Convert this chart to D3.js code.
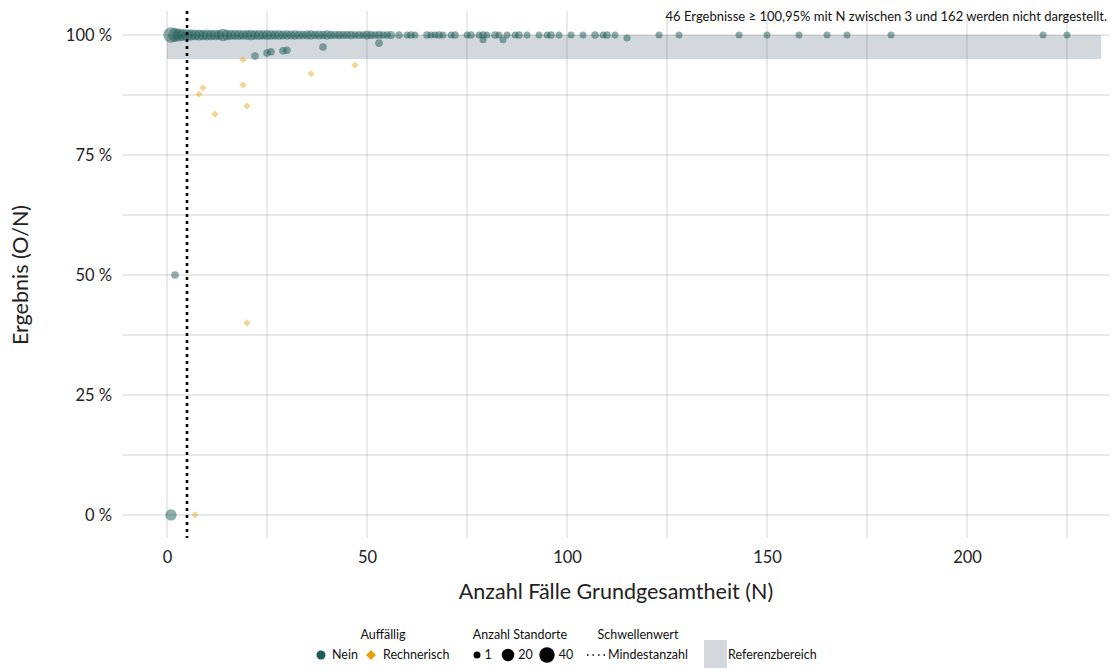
<!DOCTYPE html>
<html>
<head>
<meta charset="utf-8">
<script src="https://cdn.jsdelivr.net/npm/d3@7"></script>
<style>
  body { margin: 0; background: #fff; }
  svg { font-family: Lato, "Open Sans", sans-serif; }
</style>
</head>
<body>
<svg width="1115" height="668"></svg>
<script>
// points at 100 % (N, number of sites)
var topN = [1,2,3,4,5,6,7,8,9,10,11,12,13,14,15,16,17,18,19,20,21,22,23,24,25,26,27,28,29,30,
    31,32,33,34,35,36,37,38,39,40,41,42,43,44,45,46,47,48,49,50,51,52,53,54,55,56,
    58,60,61,62,65,66,67,68,69,71,72,75,76,78,79,80,82,83,85,87,88,90,93,95,96,98,
    101,104,107,109,110,112,123,128,143,150,158,165,170,181,219,225];
var topSites = [40,28,22,18,16,14,12,13,11,12,10,11,9,20,10,9,8,9,7,8,10,7,8,6,9,7,6,7,5,6,
    5,6,5,4,5,6,4,5,4,6,4,3,4,3,3,4,2,3,2,5,3,2,3,2,2,3,
    2,1,2,1,2,1,1,2,1,1,2,1,2,1,2,1,2,1,1,1,2,1,1,1,2,1,
    1,1,2,1,2,1,1,1,1,1,1,1,1,1,1,1];

// other not-conspicuous results
var otherN     = [1, 2, 22, 25, 26, 29, 30, 39, 53, 79, 84, 115];
var otherValue = [0, 0.50, 0.956, 0.9625, 0.965, 0.967, 0.968, 0.975, 0.983, 0.99, 0.99, 0.994];
var otherSites = [14, 2, 2, 2, 2, 2, 2, 2, 2, 1, 1, 1];

// conspicuous (Rechnerisch)
var flagN     = [7, 8, 9, 12, 19, 19, 20, 20, 36, 47];
var flagValue = [0, 0.877, 0.89, 0.835, 0.948, 0.896, 0.852, 0.40, 0.919, 0.9375];

var yTicks = [0, 0.25, 0.5, 0.75, 1];
var yMinor = [0.125, 0.375, 0.625, 0.875];
var xTicks = [0, 50, 100, 150, 200];
var xMinor = [25, 75, 125, 175, 225];
var threshold = 5;
var refBand = [0.95, 1.0];
var refBandN = [0, 233.5];
var note = "46 Ergebnisse \u2265 100,95% mit N zwischen 3 und 162 werden nicht dargestellt.";

var teal = "#1d5b57", orange = "#e8a10e";

var svg = d3.select("svg");
var x = d3.scaleLinear().domain([-11, 235.5]).range([123, 1109]);
var y = d3.scaleLinear().domain([-0.048, 1.05]).range([538, 11]);
var r = d3.scaleSqrt().domain([1, 40]).range([3.5, 7.7]);

// reference band
svg.append("rect")
    .attr("x", x(refBandN[0])).attr("width", x(refBandN[1]) - x(refBandN[0]))
    .attr("y", y(refBand[1])).attr("height", y(refBand[0]) - y(refBand[1]))
    .attr("fill", "#d3d8dc");

// grid
var grid = svg.append("g").attr("stroke", "#000").attr("stroke-opacity", 0.12).attr("stroke-width", 1.4);
grid.selectAll(".hy").data(yTicks.concat(yMinor)).enter().append("line")
    .attr("x1", 123).attr("x2", 1109)
    .attr("y1", function(d) { return Math.round(y(d)); }).attr("y2", function(d) { return Math.round(y(d)); });
grid.selectAll(".vx").data(xTicks.concat(xMinor)).enter().append("line")
    .attr("y1", 11).attr("y2", 538)
    .attr("x1", function(d) { return Math.round(x(d)); }).attr("x2", function(d) { return Math.round(x(d)); });

// axes
var xAxis = svg.append("g").attr("transform", "translate(0,548)")
    .call(d3.axisBottom(x).tickValues(xTicks).tickSize(0).tickPadding(3));
var yAxis = svg.append("g").attr("transform", "translate(112,0)")
    .call(d3.axisLeft(y).tickValues(yTicks).tickSize(0).tickPadding(0)
        .tickFormat(function(d) { return Math.round(d * 100) + " %"; }));
[xAxis, yAxis].forEach(function(a) {
    a.select(".domain").remove();
    a.selectAll("text").attr("font-family", "Lato").attr("font-size", 16.5).attr("fill", "#222");
});

svg.append("text").attr("x", 616).attr("y", 599).attr("text-anchor", "middle")
    .attr("font-size", 21.5).attr("fill", "#222").text("Anzahl Fälle Grundgesamtheit (N)");
svg.append("text").attr("transform", "translate(28,275) rotate(-90)").attr("text-anchor", "middle")
    .attr("font-size", 21.5).attr("fill", "#222").text("Ergebnis (O/N)");

// points
var pts = topN.map(function(n, i) { return {n: n, v: 1, s: topSites[i]}; })
    .concat(otherN.map(function(n, i) { return {n: n, v: otherValue[i], s: otherSites[i]}; }));
pts.sort(function(a, b) { return b.s - a.s; });
svg.append("g").selectAll("circle").data(pts).enter().append("circle")
    .attr("cx", function(d) { return x(d.n); })
    .attr("cy", function(d) { return y(d.v); })
    .attr("r", function(d) { return r(d.s); })
    .attr("fill", teal).attr("fill-opacity", 0.5);

var diamond = d3.symbol().type(d3.symbolSquare).size(26);
svg.append("g").selectAll("path").data(flagN).enter().append("path")
    .attr("d", diamond)
    .attr("transform", function(d, i) { return "translate(" + x(d) + "," + y(flagValue[i]) + ") rotate(45)"; })
    .attr("fill", orange).attr("fill-opacity", 0.45);

// threshold
svg.append("line").attr("x1", x(threshold)).attr("x2", x(threshold))
    .attr("y1", 11).attr("y2", 538)
    .attr("stroke", "#000").attr("stroke-width", 2.6).attr("stroke-dasharray", "3,4");

// note
svg.append("text").attr("x", 1107).attr("y", 21).attr("text-anchor", "end")
    .attr("font-size", 13).attr("fill", "#111").text(note);

// legend
var lg = svg.append("g").attr("font-size", 12.5).attr("fill", "#111");
var ly = 659;
lg.append("text").attr("x", 383).attr("y", 639).attr("text-anchor", "middle").text("Auffällig");
lg.append("circle").attr("cx", 321).attr("cy", ly - 4).attr("r", 4.5).attr("fill", teal);
lg.append("text").attr("x", 332).attr("y", ly).text("Nein");
lg.append("path").attr("d", d3.symbol().type(d3.symbolSquare).size(50))
    .attr("transform", "translate(371," + (ly - 4) + ") rotate(45)").attr("fill", orange);
lg.append("text").attr("x", 383).attr("y", ly).text("Rechnerisch");

lg.append("text").attr("x", 520).attr("y", 639).attr("text-anchor", "middle").text("Anzahl Standorte");
var sizeKeys = [1, 20, 40], sizeX = [477, 508, 547];
sizeKeys.forEach(function(k, i) {
    lg.append("circle").attr("cx", sizeX[i]).attr("cy", ly - 4).attr("r", r(k)).attr("fill", "#000");
    lg.append("text").attr("x", sizeX[i] + r(k) + 4).attr("y", ly).text(k);
});

lg.append("text").attr("x", 638).attr("y", 639).attr("text-anchor", "middle").text("Schwellenwert");
lg.append("line").attr("x1", 587).attr("x2", 606).attr("y1", ly - 4).attr("y2", ly - 4)
    .attr("stroke", "#000").attr("stroke-width", 1.4).attr("stroke-dasharray", "1.5,4");
lg.append("text").attr("x", 608).attr("y", ly).text("Mindestanzahl");

lg.append("rect").attr("x", 704).attr("y", 640).attr("width", 23).attr("height", 28).attr("fill", "#d3d8dc");
lg.append("text").attr("x", 728).attr("y", ly).text("Referenzbereich");
</script>
</body>
</html>
